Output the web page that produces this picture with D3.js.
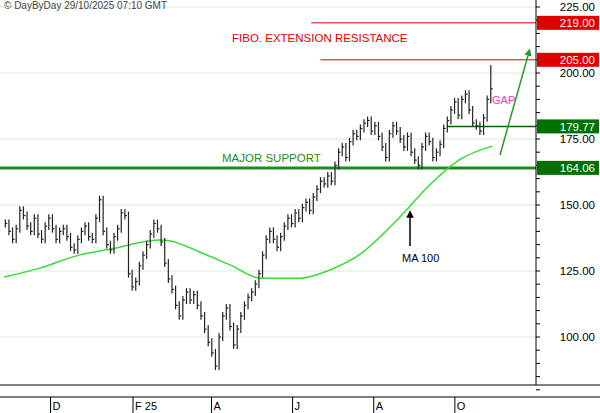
<!DOCTYPE html>
<html><head><meta charset="utf-8">
<script src="https://cdn.jsdelivr.net/npm/d3@7"></script>
<style>body{margin:0;background:#fff;font-family:"Liberation Sans",Arial,sans-serif}</style>
</head><body><div id="chart"></div>
<script>
// daily closes (sampled), first bar 28 Oct 2024, last bar 28 Oct 2025
const closes = [143,140,137,141,148,146,142,140,145,139,137,142,145,141,137,140,141,138,134,133,137,140,142,138,137,145,152,140,135,133,138,141,147,146,
  124,119,121,127,131,135,139,143,141,136,
  128,122,118,112,108,114,117,114,116,112,108,103,98,94,89,100,
  108,111,104,97,103,108,112,115,117,120,124,131,137,
  140,137,134,138,142,145,143,147,145,149,151,148,153,156,159,158,161,159,165,170,
  172,168,174,177,176,179,181,182,178,180,176,172,168,177,180,178,175,172,176,170,
  167,165,172,176,174,168,170,173,179,182,186,189,184,190,192,186,181,180,178,183,190,194];
const lastHigh = 203;
const maDates = ["2024-10-27","2024-11-23","2024-12-23","2025-01-15","2025-02-22","2025-03-01","2025-03-23","2025-04-15","2025-05-08","2025-06-07","2025-06-29","2025-07-21","2025-08-20","2025-09-12","2025-10-04","2025-10-29"];
const maValues = [122.7,126.1,131.1,133.3,136.7,136.4,132.2,127.3,122.3,122.3,125.4,131.1,145.1,157.6,167.0,172.3];
const yTicks = [100,125,150,175,200,225];
const monthTicks = [["2024-12-01","D"],["2025-02-01","F 25"],["2025-04-01","A"],["2025-06-01","J"],["2025-08-01","A"],["2025-10-01","O"]];
const levels = [
  {v:219, label:"219.00", color:"#e00000", box:"#e00000", x0:"2025-06-15", w:1},
  {v:205, label:"205.00", color:"#e00000", box:"#e00000", x0:"2025-06-22", w:1},
  {v:179.77, label:"179.77", color:"#006400", box:"#007000", x0:"2025-09-25", w:1.5},
  {v:164.06, label:"164.06", color:"#1f8a1f", box:"#007000", x0:"2024-10-20", w:3}
];

const W = 600, H = 413, right = 536, bottom = 385;
const parse = d3.timeParse("%Y-%m-%d");
const x = d3.scaleTime().domain([parse("2024-10-24"), parse("2025-12-01")]).range([0, right]);
const y = d3.scaleLinear().domain([100, 200]).range([337, 73]);

const svg = d3.select("#chart").append("svg").attr("width", W).attr("height", H)
  .style("font-family", "Liberation Sans, Arial, sans-serif");

// grid
svg.selectAll(".grid").data(yTicks).enter().append("line")
  .attr("x1", 0).attr("x2", right).attr("y1", d => y(d)).attr("y2", d => y(d))
  .attr("stroke", "#d4f0d4").attr("stroke-width", 1);

// levels
levels.forEach(l => {
  svg.append("line").attr("x1", x(parse(l.x0))).attr("x2", right)
    .attr("y1", y(l.v)).attr("y2", y(l.v)).attr("stroke", l.color).attr("stroke-width", l.w);
});

// MA line
const ma = maDates.map((d, i) => ({d: parse(d), v: maValues[i]}));
svg.append("path").datum(ma).attr("fill", "none").attr("stroke", "#33dd33").attr("stroke-width", 1.5)
  .attr("d", d3.line().x(d => x(d.d)).y(d => y(d.v)).curve(d3.curveMonotoneX));

// bars
const t0 = parse("2024-10-28"), t1 = parse("2025-10-28");
const bars = closes.map((c, i) => {
  const p = i > 0 ? closes[i - 1] : c;
  return {
    d: new Date(+t0 + (t1 - t0) * i / (closes.length - 1)),
    c: c,
    h: i === closes.length - 1 ? lastHigh : Math.max(p, c) + 1.5,
    l: Math.min(p, c) - 1.5
  };
});
const g = svg.append("g").attr("stroke", "#222").attr("stroke-width", 1.2);
g.selectAll(".hl").data(bars).enter().append("line")
  .attr("x1", d => x(d.d)).attr("x2", d => x(d.d)).attr("y1", d => y(d.h)).attr("y2", d => y(d.l));
g.selectAll(".cl").data(bars).enter().append("line")
  .attr("x1", d => x(d.d)).attr("x2", d => x(d.d) + 2).attr("y1", d => y(d.c)).attr("y2", d => y(d.c));

// right axis
svg.append("line").attr("x1", right).attr("x2", right).attr("y1", 0).attr("y2", bottom).attr("stroke", "#000");
const minor = d3.range(80, 232, 5);
svg.selectAll(".mt").data(minor).enter().append("line")
  .attr("x1", right).attr("x2", right + 4).attr("y1", d => y(d)).attr("y2", d => y(d)).attr("stroke", "#000");
svg.selectAll(".yt").data(yTicks).enter().append("text")
  .attr("x", 595).attr("y", d => y(d) + 4).attr("text-anchor", "end")
  .attr("font-size", 11.5).text(d => d.toFixed(2));

levels.forEach(l => {
  svg.append("rect").attr("x", right + 1).attr("y", y(l.v) - 7).attr("width", 62).attr("height", 14).attr("fill", l.box);
  svg.append("text").attr("x", 595).attr("y", y(l.v) + 4.5).attr("text-anchor", "end")
    .attr("font-size", 11.5).attr("fill", "#fff").text(l.label);
});

// bottom axis
svg.append("line").attr("x1", 0).attr("x2", W).attr("y1", bottom).attr("y2", bottom).attr("stroke", "#000");
svg.append("line").attr("x1", 0).attr("x2", W).attr("y1", 397).attr("y2", 397).attr("stroke", "#000");
monthTicks.forEach(m => {
  const xx = x(parse(m[0]));
  svg.append("line").attr("x1", xx).attr("x2", xx).attr("y1", 397).attr("y2", H).attr("stroke", "#000");
  svg.append("text").attr("x", xx + 2).attr("y", 410).attr("font-size", 11).text(m[1]);
});

// annotations
svg.append("text").attr("x", 4).attr("y", 9).attr("font-size", 10).attr("fill", "#444").text("© DayByDay 29/10/2025  07:10 GMT");
svg.append("text").attr("x", 232).attr("y", 42).attr("font-size", 11.5).attr("fill", "#e00000").text("FIBO. EXTENSION RESISTANCE");
svg.append("text").attr("x", 222).attr("y", 162).attr("font-size", 11.5).attr("fill", "#1f8a1f").text("MAJOR SUPPORT");
svg.append("text").attr("x", 492).attr("y", 104).attr("font-size", 11).attr("fill", "#ff33cc").text("GAP");
svg.append("text").attr("x", 402).attr("y", 262).attr("font-size", 11).attr("fill", "#000").text("MA 100");

const defs = svg.append("defs");
[["ag", "#2a9a2a"], ["ak", "#000"]].forEach(a => {
  defs.append("marker").attr("id", a[0]).attr("viewBox", "0 0 10 10").attr("refX", 5).attr("refY", 5)
    .attr("markerWidth", 5).attr("markerHeight", 5).attr("orient", "auto")
    .append("path").attr("d", "M0,0L10,5L0,10z").attr("fill", a[1]);
});
svg.append("line").attr("x1", 500).attr("y1", 155).attr("x2", 529).attr("y2", 52)
  .attr("stroke", "#2a9a2a").attr("stroke-width", 1.5).attr("marker-end", "url(#ag)");
svg.append("line").attr("x1", 410).attr("y1", 246).attr("x2", 410).attr("y2", 214)
  .attr("stroke", "#000").attr("stroke-width", 1.5).attr("marker-end", "url(#ak)");
</script></body></html>
